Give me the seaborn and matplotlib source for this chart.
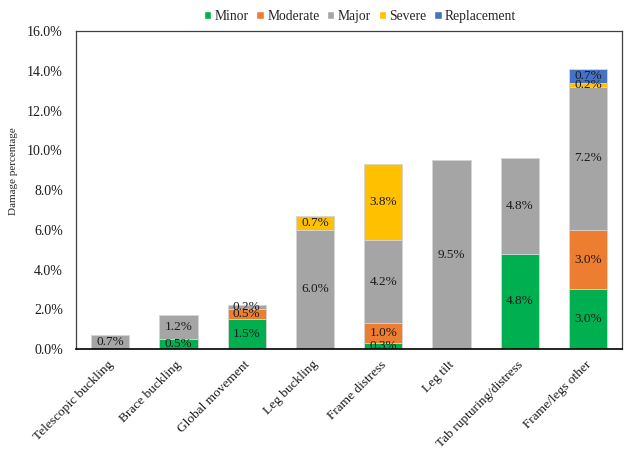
import pandas as pd
import matplotlib
matplotlib.use("Agg")
import matplotlib.pyplot as plt
import matplotlib.transforms as mtransforms
from matplotlib.patches import Patch
from matplotlib.ticker import FuncFormatter
import seaborn as sns

### Dados (percentuais de dano por categoria)
categorias = ["Telescopic buckling", "Brace buckling", "Global movement", "Leg buckling",
			  "Frame distress", "Leg tilt", "Tab rupturing/distress", "Frame/legs other"]
niveis = ["Minor", "Moderate", "Major", "Severe", "Replacement"]
minor = [0.0, 0.5, 1.5, 0.0, 0.3, 0.0, 4.8, 3.0]
moderate = [0.0, 0.0, 0.5, 0.0, 1.0, 0.0, 0.0, 3.0]
major = [0.7, 1.2, 0.2, 6.0, 4.2, 9.5, 4.8, 7.2]
severe = [0.0, 0.0, 0.0, 0.7, 3.8, 0.0, 0.0, 0.2]
replacement = [0.0, 0.0, 0.0, 0.0, 0.0, 0.0, 0.0, 0.7]
cores = ["#00B050", "#ED7D31", "#A5A5A5", "#FFC000", "#4472C4"]

### Pré-processamento
valores = pd.DataFrame({"Minor": minor, "Moderate": moderate, "Major": major,
						"Severe": severe, "Replacement": replacement}, index = categorias)
acumulado = valores.cumsum(axis = 1)

sns.set_theme(style = "white")
plt.rcParams["font.family"] = ["Liberation Serif", "DejaVu Serif"]

fig = plt.figure(figsize = (6.24, 4.51), dpi = 100)
ax = fig.add_axes([0.122, 0.226, 0.875, 0.705])

# barras empilhadas: desenha do topo (acumulado total) para a base
for nivel, cor in reversed(list(zip(niveis, cores))):
	df = pd.DataFrame({"categoria": categorias, "valor": acumulado[nivel].values})
	sns.barplot(data = df, x = "categoria", y = "valor", color = cor, order = categorias,
				width = 0.56, edgecolor = "#D9D9D9", linewidth = 0.6, saturation = 1, ax = ax)

# rótulos dos segmentos
for i, c in enumerate(categorias):
	for nivel in niveis:
		v = valores.loc[c, nivel]
		if v > 0:
			y = acumulado.loc[c, nivel] - v / 2
			ax.text(i, y, f"{v:.1f}%", ha = "center", va = "center", fontsize = 9.5, color = "#1a1a1a")

ax.set_ylim(0, 16)
ax.set_xlim(-0.5, len(categorias) - 0.5)
ax.set_yticks(range(0, 17, 2))
ax.yaxis.set_major_formatter(FuncFormatter(lambda v, p: f"{v:.1f}%"))
ax.set_xlabel("")
ax.set_ylabel("Damage percentage", fontsize = 8)
ax.yaxis.set_label_coords(-0.106, 0.56)
ax.tick_params(axis = "both", length = 0, labelsize = 10, colors = "#1a1a1a")
ax.tick_params(axis = "x", labelsize = 9.6, pad = 4)
ax.tick_params(axis = "y", pad = 9.5)
desloca = mtransforms.ScaledTranslation(-0.03, -0.04, fig.dpi_scale_trans)
for lbl in ax.get_xticklabels():
	lbl.set_rotation(45)
	lbl.set_ha("right")
	lbl.set_va("top")
	lbl.set_rotation_mode("anchor")
	lbl.set_transform(lbl.get_transform() + desloca)
for s in ax.spines.values():
	s.set_visible(True)
	s.set_color("#404040")
	s.set_linewidth(0.9)
ax.spines["bottom"].set_color("black")
ax.spines["bottom"].set_linewidth(1.2)

handles = [Patch(facecolor = cor, label = nivel) for nivel, cor in zip(niveis, cores)]
fig.legend(handles = handles, loc = "center", bbox_to_anchor = (0.577, 0.963), ncol = 5,
		   frameon = False, fontsize = 9.8, handlelength = 0.55, handleheight = 0.55,
		   handletextpad = 0.25, columnspacing = 0.55)

plt.savefig("out.png", dpi = 100)
